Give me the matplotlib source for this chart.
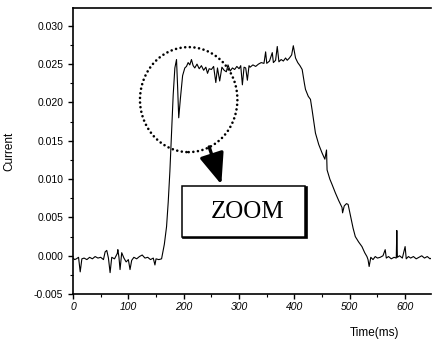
import matplotlib
matplotlib.use('Agg')
import matplotlib.pyplot as plt
import matplotlib.transforms as mtransforms
from matplotlib.patches import Ellipse, Rectangle
from matplotlib.ticker import MultipleLocator

# 电流随时间的变化 (ms, 单位 1e-3)
time_ms = [0, 3, 6, 10, 13, 16, 20, 25, 30, 35, 40, 45, 50, 55, 58, 61, 64, 67, 70,
           75, 80, 81, 83, 85, 88, 92, 96, 100, 103, 106, 110, 115, 120, 125, 130,
           135, 140, 145, 148, 150, 155, 160,
           165, 169, 172, 175, 178, 181, 184, 187, 189, 191, 194, 198, 202, 205,
           208, 211, 214, 217, 220, 224, 228, 232, 236, 240, 243, 246, 250, 254,
           258, 261, 265, 269, 273, 277, 280, 284, 288, 292, 296, 300, 303, 306,
           309, 312, 315, 318, 320, 325, 330, 335, 340, 345, 348, 350, 355, 360,
           362, 366, 369, 372, 376, 380, 384, 387, 391, 395, 398,
           402, 406, 410, 414, 418, 420, 425, 429, 432, 438, 444, 450, 455, 458,
           459, 464, 468, 474, 480, 486, 487, 490, 494, 497, 502, 506, 510, 516,
           522, 527, 531, 533, 535, 538, 542, 546, 550, 555, 560, 564, 566, 570,
           575, 580, 584, 585, 586, 590, 595, 600, 602, 606, 610, 615, 620, 625,
           630, 635, 640, 645, 650]
current_e3 = [-0.3, -0.5, -0.4, -0.2, -2.1, -0.4, -0.3, -0.5, -0.2, -0.4, -0.1, -0.3,
              -0.2, -0.5, 0.5, 0.7, -0.3, -2.2, -0.2, -0.4, 0.3, 0.8, -0.2, -1.8, 0.4,
              -0.3, -0.8, -0.5, -1.8, -0.6, -0.2, -0.4, -0.1, 0.1, -0.3, -0.2, -0.5,
              -0.3, -1.2, -0.4, -0.5, -0.4,
              1.5, 3.8, 7.0, 11.0, 16.0, 21.0, 24.5, 25.6, 22.0, 18.0, 20.5, 23.5,
              24.5, 24.7, 25.2, 24.9, 25.6, 24.8, 24.5, 25.0, 24.4, 24.8, 24.2, 24.6,
              23.8, 24.4, 24.3, 24.7, 22.6, 24.5, 22.8, 24.6, 24.2, 24.0, 24.9, 24.1,
              24.5, 24.3, 24.7, 24.4, 24.8, 22.3, 24.6, 24.5, 22.9, 24.8, 24.6, 24.9,
              24.7, 25.0, 25.2, 25.1, 26.6, 25.1, 25.4, 26.5, 25.2, 25.5, 27.3, 25.3,
              25.6, 25.4, 25.8, 25.5, 25.8, 26.2, 27.4,
              25.8, 25.2, 24.8, 24.3, 22.5, 21.7, 20.8, 20.4, 19.0, 16.0, 14.5, 13.4,
              12.6, 13.8, 11.2, 10.0, 9.3, 8.2, 7.2, 6.3, 5.6, 6.5, 6.8, 6.7, 5.0,
              3.6, 2.5, 1.8, 1.2, 0.4, -0.1, -0.5, -1.4, -0.2, -0.5, -0.1, -0.3, -0.2,
              0.0, 0.8, -0.3, -0.1, -0.4, -0.2, -0.3, 3.3, -0.2, 0.0, -0.3, 1.2, -0.4,
              -0.1, -0.3, -0.1, -0.4, -0.2, 0.0, -0.3, -0.1, -0.4, -0.2]
current = [c / 1000.0 for c in current_e3]

plt.rcParams['font.family'] = ['Liberation Sans', 'DejaVu Sans']

fig = plt.figure(figsize=(4.32, 3.40), dpi=100)
ax = fig.add_axes([0.169, 0.135, 0.829, 0.841])

ax.plot(time_ms, current, color='black', lw=0.8)

ax.set_xlim(0, 647)
ax.set_ylim(-0.005, 0.0323)
ax.xaxis.set_major_locator(MultipleLocator(100))
ax.xaxis.set_minor_locator(MultipleLocator(50))
ax.yaxis.set_major_locator(MultipleLocator(0.005))
ax.yaxis.set_minor_locator(MultipleLocator(0.0025))
ax.yaxis.set_major_formatter(plt.FuncFormatter(lambda v, p: '%.3f' % v))
ax.tick_params(which='major', direction='out', length=3.5, width=1, labelsize=7.5)
ax.tick_params(which='minor', direction='out', length=2, width=0.8)
ax.tick_params(axis='x', pad=2)
for lbl in ax.get_xticklabels():
    lbl.set_fontstyle('italic')
ax.spines['right'].set_visible(False)
for s in ['left', 'bottom', 'top']:
    ax.spines[s].set_linewidth(1.2)

ax.set_ylabel('Current', fontsize=8.5)
ax.yaxis.set_label_coords(-0.16, 0.5)
ax.set_xlabel('Time(ms)', fontsize=8.5)
ax.xaxis.set_label_coords(0.841, -0.115)

# 虚线圆圈标出突变区域
circle = Ellipse((209, 0.02037), 176, 0.0137, fill=False, edgecolor='black',
                 lw=1.9, linestyle=(0, (0.01, 1.75)), capstyle='round')
ax.add_patch(circle)

# 箭头
ax.annotate('', xy=(268, 0.0093), xytext=(246, 0.0142),
            arrowprops=dict(arrowstyle='-|>,head_length=0.95,head_width=0.38',
                            mutation_scale=20, lw=2.4, color='black',
                            shrinkA=0, shrinkB=0))

# 带阴影的 ZOOM 方框
shadow_tr = mtransforms.offset_copy(ax.transData, fig=fig, x=1.5, y=-1.5, units='dots')
ax.add_patch(Rectangle((196.4, 0.00248), 223.4, 0.00666, facecolor='black',
                       edgecolor='black', lw=1.2, transform=shadow_tr, zorder=4))
ax.add_patch(Rectangle((196.4, 0.00248), 223.4, 0.00666, facecolor='white',
                       edgecolor='black', lw=1.1, zorder=5))
ax.text(315, 0.00575, 'ZOOM', fontsize=18, family='Liberation Serif',
        ha='center', va='center', zorder=6)

fig.savefig('out.png', dpi=100)
